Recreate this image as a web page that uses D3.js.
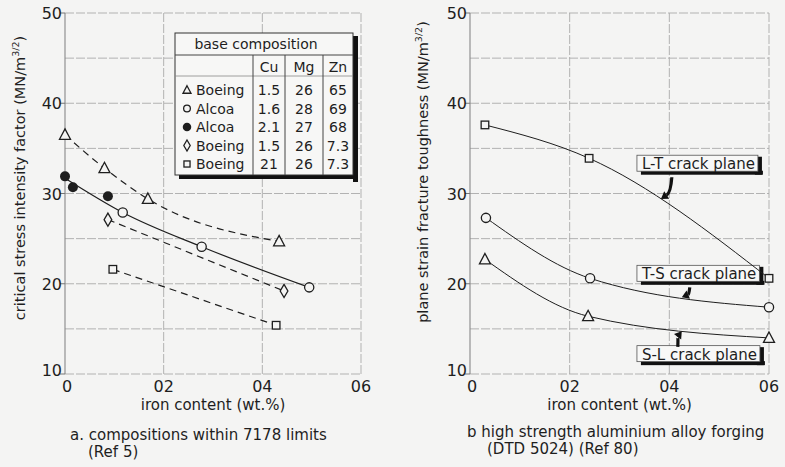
<!DOCTYPE html>
<html><head><meta charset="utf-8">
<script src="https://cdn.jsdelivr.net/npm/d3@7"></script>
<style>
html,body{margin:0;padding:0;background:#f4f4f3;}
svg{display:block;font-family:"DejaVu Sans",sans-serif;}
</style></head>
<body>
<svg id="c" width="785" height="467"></svg>
<script>
// ---------- data ----------
const xTicks = [0, 0.2, 0.4, 0.6];
const xTickLabels = ["0", "02", "04", "06"];
const yTicks = [10, 20, 30, 40, 50];
const yTickLabels = ["10", "20", "30", "40", "50"];
const yGrid = [10, 15, 20, 25, 30, 35, 40, 45, 50];

// left chart (a): [iron content, K]
const boeingTriangle = [[0, 36.5], [0.08, 32.8], [0.168, 29.4], [0.434, 24.7]];
const alcoaOpen = [[0.117, 27.9], [0.277, 24.1], [0.495, 19.6]];
const alcoaFilled = [[0, 31.9], [0.016, 30.7], [0.087, 29.7]];
const boeingDiamond = [[0.087, 27.1], [0.444, 19.2]];
const boeingSquare = [[0.097, 21.6], [0.428, 15.4]];
const alcoaTrend = [[0, 31.7], [0.117, 27.9], [0.277, 24.1], [0.495, 19.6]];

// legend table
const legendSymbols = ["triangle", "circle", "filled", "diamond", "square"];
const legendMakers = ["Boeing", "Alcoa", "Alcoa", "Boeing", "Boeing"];
const legendCu = ["1.5", "1.6", "2.1", "1.5", "21"];
const legendMg = ["26", "28", "27", "26", "26"];
const legendZn = ["65", "69", "68", "7.3", "7.3"];

// right chart (b)
const ltPlane = [[0.03, 37.6], [0.239, 33.9], [0.6, 20.6]];
const tsPlane = [[0.032, 27.3], [0.241, 20.6], [0.6, 17.4]];
const slPlane = [[0.03, 22.7], [0.237, 16.4], [0.6, 14.0]];
const planeLabels = ["L-T crack plane", "T-S crack plane", "S-L crack plane"];
const planeLabelPos = [[0.335, 33.3], [0.335, 21.1], [0.335, 12.2]]; // left x, centre y
const arrowStart = [[0.405, 31.8], [0.441, 19.6], [0.417, 13.0]];
const arrowTip = [[0.383, 29.4], [0.425, 18.5], [0.425, 14.75]];

// ---------- drawing ----------
const svg = d3.select("#c");
const ink = "#1e1e1e";
const bg = "#f4f4f3";

const yScale = d3.scaleLinear().domain([10, 50]).range([374, 13]);
const xL = d3.scaleLinear().domain([0, 0.6]).range([65, 361]);
const xR = d3.scaleLinear().domain([0, 0.6]).range([470, 769]);

function frame(x, yLabelX, title, titleY) {
  const g = svg.append("g");
  g.selectAll(".hg").data(yGrid).join("line")
    .attr("x1", x(0)).attr("x2", x(0.6))
    .attr("y1", d => yScale(d)).attr("y2", d => yScale(d))
    .attr("stroke", "#aaa").attr("stroke-width", 0.9).attr("stroke-dasharray", "9,2");
  g.selectAll(".vg").data(xTicks).join("line")
    .attr("x1", d => x(d)).attr("x2", d => x(d))
    .attr("y1", yScale(10)).attr("y2", yScale(50))
    .attr("stroke", d => d === 0 ? "#888" : "#aaa").attr("stroke-width", d => d === 0 ? 1.1 : 0.9)
    .attr("stroke-dasharray", d => d === 0 ? null : "9,2");
  g.selectAll(".yt").data(yTicks).join("line")
    .attr("x1", x(0) - 5).attr("x2", x(0))
    .attr("y1", d => yScale(d)).attr("y2", d => yScale(d))
    .attr("stroke", "#777").attr("stroke-width", 1);
  g.selectAll(".ytl").data(yTicks).join("text")
    .attr("x", x(0) - 3).attr("y", (d) => yScale(d) + (d === 10 ? 2 : 6))
    .attr("text-anchor", "end").attr("font-size", 16).attr("fill", ink)
    .text((d, i) => yTickLabels[i]);
  g.selectAll(".xtl").data(xTicks).join("text")
    .attr("x", d => x(d) + (d === 0 ? 2 : 0)).attr("y", 392)
    .attr("text-anchor", "middle").attr("font-size", 16).attr("fill", ink)
    .text((d, i) => xTickLabels[i]);
  g.append("text").attr("x", x(0.3) + 0).attr("y", 410).attr("text-anchor", "middle")
    .attr("font-size", 15).attr("fill", ink).text("iron content (wt.%)");
  const t = g.append("text").attr("transform", `translate(${yLabelX},${titleY}) rotate(-90)`)
    .attr("text-anchor", "middle").attr("font-size", 14.5).attr("fill", ink);
  t.append("tspan").text(title + " (MN/m");
  t.append("tspan").attr("font-size", 9.5).attr("dy", -6).text("3/2");
  t.append("tspan").attr("dy", 6).text(")");
}

frame(xL, 25, "critical stress intensity factor", 178);
frame(xR, 428, "plane strain fracture toughness", 172);

function symbol(g, type, cx, cy, s) {
  if (type === "triangle") {
    const h = s * 0.9;
    g.append("path").attr("d", `M${cx},${cy - h * 0.6}L${cx + s / 2},${cy + h * 0.45}L${cx - s / 2},${cy + h * 0.45}Z`)
      .attr("fill", bg).attr("stroke", ink).attr("stroke-width", 1.3);
  } else if (type === "circle") {
    g.append("circle").attr("cx", cx).attr("cy", cy).attr("r", s * 0.42)
      .attr("fill", bg).attr("stroke", ink).attr("stroke-width", 1.3);
  } else if (type === "filled") {
    g.append("circle").attr("cx", cx).attr("cy", cy).attr("r", s * 0.5)
      .attr("fill", ink);
  } else if (type === "diamond") {
    g.append("path").attr("d", `M${cx},${cy - s * 0.55}L${cx + s * 0.32},${cy}L${cx},${cy + s * 0.55}L${cx - s * 0.32},${cy}Z`)
      .attr("fill", bg).attr("stroke", ink).attr("stroke-width", 1.3);
  } else if (type === "square") {
    g.append("rect").attr("x", cx - s * 0.38).attr("y", cy - s * 0.38).attr("width", s * 0.76).attr("height", s * 0.76)
      .attr("fill", bg).attr("stroke", ink).attr("stroke-width", 1.3);
  }
}

// ----- left chart -----
const gl = svg.append("g");
const lineL = d3.line().x(d => xL(d[0])).y(d => yScale(d[1])).curve(d3.curveMonotoneX);
gl.append("path").attr("d", lineL(boeingTriangle)).attr("fill", "none").attr("stroke", ink)
  .attr("stroke-width", 1.2).attr("stroke-dasharray", "7,5");
gl.append("path").attr("d", lineL(alcoaTrend)).attr("fill", "none").attr("stroke", ink)
  .attr("stroke-width", 1.2);
gl.append("path").attr("d", lineL(boeingDiamond)).attr("fill", "none").attr("stroke", ink)
  .attr("stroke-width", 1.2).attr("stroke-dasharray", "7,5");
gl.append("path").attr("d", lineL(boeingSquare)).attr("fill", "none").attr("stroke", ink)
  .attr("stroke-width", 1.2).attr("stroke-dasharray", "7,5");

boeingTriangle.forEach(d => symbol(gl, "triangle", xL(d[0]), yScale(d[1]), 11));
alcoaOpen.forEach(d => symbol(gl, "circle", xL(d[0]), yScale(d[1]), 11));
alcoaFilled.forEach(d => symbol(gl, "filled", xL(d[0]), yScale(d[1]), 10));
boeingDiamond.forEach(d => symbol(gl, "diamond", xL(d[0]), yScale(d[1]), 12));
boeingSquare.forEach(d => symbol(gl, "square", xL(d[0]), yScale(d[1]), 10));

// ----- legend table -----
const tb = svg.append("g").attr("transform", "translate(175,33)");
const tW = 178, tH = 142;
tb.append("rect").attr("x", 4).attr("y", tH).attr("width", tW + 1).attr("height", 4).attr("fill", "#111");
tb.append("rect").attr("x", tW).attr("y", 3).attr("width", 5).attr("height", tH + 4).attr("fill", "#111");
tb.append("rect").attr("x", 0).attr("y", 0).attr("width", tW).attr("height", tH)
  .attr("fill", "#f7f7f6").attr("stroke", "#333").attr("stroke-width", 1);
const colX = [78, 110, 148];
tb.append("line").attr("x1", 0).attr("x2", tW).attr("y1", 22).attr("y2", 22).attr("stroke", "#444").attr("stroke-width", 1);
tb.append("line").attr("x1", 0).attr("x2", tW).attr("y1", 43).attr("y2", 43).attr("stroke", "#888").attr("stroke-width", 0.8);
colX.forEach(cx => tb.append("line").attr("x1", cx).attr("x2", cx).attr("y1", 22).attr("y2", tH)
  .attr("stroke", "#444").attr("stroke-width", 1));
tb.append("text").attr("x", 81).attr("y", 16).attr("text-anchor", "middle").attr("font-size", 14)
  .attr("fill", ink).text("base composition");
const headers = ["Cu", "Mg", "Zn"];
const colMid = [94, 129, 163];
headers.forEach((h, i) => tb.append("text").attr("x", colMid[i]).attr("y", 39).attr("text-anchor", "middle")
  .attr("font-size", 14).attr("fill", ink).text(h));
const rowY = [57, 75.5, 94, 112.5, 131];
legendMakers.forEach((m, i) => {
  symbol(tb, legendSymbols[i], 12, rowY[i], legendSymbols[i] === "filled" ? 8.5 : (legendSymbols[i] === "diamond" ? 10 : 8));
  tb.append("text").attr("x", 21).attr("y", rowY[i] + 5).attr("font-size", 14).attr("fill", ink).text(m);
  tb.append("text").attr("x", colMid[0]).attr("y", rowY[i] + 5).attr("text-anchor", "middle").attr("font-size", 14).attr("fill", ink).text(legendCu[i]);
  tb.append("text").attr("x", colMid[1]).attr("y", rowY[i] + 5).attr("text-anchor", "middle").attr("font-size", 14).attr("fill", ink).text(legendMg[i]);
  tb.append("text").attr("x", colMid[2]).attr("y", rowY[i] + 5).attr("text-anchor", "middle").attr("font-size", 14).attr("fill", ink).text(legendZn[i]);
});

// ----- right chart -----
const gr = svg.append("g");
const gLab = gr.append("g");
const gLines = gr.append("g");

planeLabels.forEach((lab, i) => {
  const x0 = xR(planeLabelPos[i][0]), yc = yScale(planeLabelPos[i][1]);
  const g = gLab.append("g");
  const t = g.append("text").attr("x", x0 + 5).attr("y", yc + 5.5).attr("font-size", 15).attr("fill", ink).text(lab);
  const w = t.node().getComputedTextLength() + 8;
  g.insert("rect", "text").attr("x", x0 + 4).attr("y", yc + 7).attr("width", w + 1).attr("height", 4).attr("fill", "#111");
  g.insert("rect", "text").attr("x", x0 + w - 3).attr("y", yc - 7).attr("width", 7).attr("height", 18).attr("fill", "#111");
  g.insert("rect", "text").attr("x", x0).attr("y", yc - 8.5).attr("width", w).attr("height", 16)
    .attr("fill", "#f8f8f7").attr("stroke", "#555").attr("stroke-width", 0.8);
});

const lineR = d3.line().x(d => xR(d[0])).y(d => yScale(d[1])).curve(d3.curveMonotoneX);
[ltPlane, tsPlane, slPlane].forEach(s => gLines.append("path").attr("d", lineR(s)).attr("fill", "none")
  .attr("stroke", ink).attr("stroke-width", 1));
ltPlane.forEach(d => symbol(gLines, "square", xR(d[0]), yScale(d[1]), 10));
tsPlane.forEach(d => symbol(gLines, "circle", xR(d[0]), yScale(d[1]), 11));
slPlane.forEach(d => symbol(gLines, "triangle", xR(d[0]), yScale(d[1]), 11));

arrowStart.forEach((s, i) => {
  const x0 = xR(s[0]), y0 = yScale(s[1]);
  const x1 = xR(arrowTip[i][0]), y1 = yScale(arrowTip[i][1]);
  const cx = x0 + (x1 - x0) * 0.1, cy = y0 + (y1 - y0) * 0.7;
  const ang = Math.atan2(y1 - cy, x1 - cx);
  const L = 7, Wd = 4.5;
  const bx = x1 - L * Math.cos(ang), by = y1 - L * Math.sin(ang);
  gLines.append("path").attr("d", `M${x0},${y0}Q${cx},${cy} ${bx},${by}`).attr("fill", "none")
    .attr("stroke", "#111").attr("stroke-width", 3.2);
  gLines.append("path").attr("d", `M${x1},${y1}L${bx + Wd * Math.sin(ang)},${by - Wd * Math.cos(ang)}L${bx - Wd * Math.sin(ang)},${by + Wd * Math.cos(ang)}Z`)
    .attr("fill", "#111");
});

function caption(x, y, lines, indent) {
  lines.forEach((l, i) => svg.append("text").attr("x", x + (i ? indent : 0)).attr("y", y + i * 17)
    .attr("font-size", 15).attr("fill", ink).text(l));
}
caption(70, 440, ["a. compositions within 7178 limits", "(Ref 5)"], 18);
caption(467, 437, ["b  high strength aluminium alloy forging", "(DTD 5024) (Ref 80)"], 20);
</script>
</body></html>
